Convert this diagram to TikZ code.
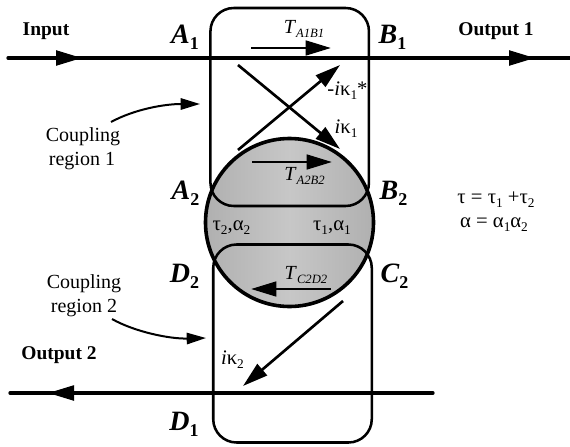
\documentclass[tikz,border=0pt]{standalone}
\usepackage{fontspec}
\setmainfont{Liberation Serif}
\usetikzlibrary{arrows.meta}
\newcommand{\lowsub}[2][10]{\raisebox{-0.22em}{\fontsize{#1}{#1}\selectfont #2}}
\tikzset{
  x=0.75pt, y=-0.75pt,
  wire/.style={line width=2.5pt, line cap=round},
  bighead/.style={line width=2.5pt, -{Triangle[length=19.5pt,width=11pt]}},
  thinarrow/.style={line width=2pt, -{Triangle[length=19pt,width=11pt]}},
  pointer/.style={line width=1.5pt, -{Triangle[length=14.5pt,width=8.5pt]}},
  loopbox/.style={draw, line width=1.9pt, rounded corners=17.5pt, minimum width=118.9pt, minimum height=148.5pt, inner sep=0pt},
  ringshape/.style={circle, minimum size=126pt, inner sep=0pt},
  lbl/.style={anchor=base, inner sep=0pt, font=\fontsize{15}{15}\selectfont},
  boldlbl/.style={anchor=base, inner sep=0pt, font=\fontsize{14.6}{15}\selectfont\bfseries},
  port/.style={anchor=base, inner sep=0pt, font=\fontsize{21}{22}\selectfont\bfseries},
  small/.style={anchor=base, inner sep=0pt, font=\fontsize{15.5}{16}\selectfont},
}
\newcommand{\portname}[2]{\textit{#1}\lowsub[13.5]{#2}}
\newcommand{\Tname}[1]{\textit{T}\lowsub[9.5]{\textit{#1}}}
\begin{document}
\begin{tikzpicture}
\useasboundingbox (0,0) rectangle (570,446);
\fill[white] (0,0) rectangle (570,446);
% ring
\shade[left color=black!31, right color=black!31, middle color=black!22] (289.5,222.5) circle[radius=84];
\node[ringshape, draw, line width=2.7pt] (ring) at (289.5,222.5) {};
% loops
\node[loopbox] (upper) at (289.7,107) {};
\node[loopbox] (lower) at (292.5,343.5) {};
% main waveguides
\coordinate (inL) at (8,58);
\coordinate (outR) at (570,58);
\coordinate (outTwoR) at (433,393);
\coordinate (outTwoL) at (10,393);
\draw[wire] (inL) -- (outR);
\draw[wire] (outTwoR) -- (outTwoL);
\coordinate (h1a) at (56,58); \coordinate (h1b) at (82,58);
\coordinate (h2a) at (508,58); \coordinate (h2b) at (535,58);
\coordinate (h3a) at (74,393); \coordinate (h3b) at (48,393);
\draw[bighead] (h1a) -- (h1b);
\draw[bighead] (h2a) -- (h2b);
\draw[bighead] (h3a) -- (h3b);
% transmission arrows
\coordinate (ta1) at (251,48); \coordinate (ta2) at (331,48);
\coordinate (tb1) at (252,162); \coordinate (tb2) at (332,162);
\coordinate (tc1) at (331,289); \coordinate (tc2) at (251,289);
\draw[thinarrow] (ta1) -- (ta2);
\draw[thinarrow] (tb1) -- (tb2);
\draw[thinarrow] (tc1) -- (tc2);
% coupling arrows
\coordinate (xa1) at (238,65); \coordinate (xa2) at (340,149);
\coordinate (xb1) at (238,150); \coordinate (xb2) at (340,65);
\coordinate (xc1) at (343,301); \coordinate (xc2) at (243,386);
\draw[thinarrow] (xa1) -- (xa2);
\draw[thinarrow] (xb1) -- (xb2);
\draw[thinarrow] (xc1) -- (xc2);
% region pointers
\node[lbl] (crone) at (83,141) {Coupling};
\node[lbl] (cronb) at (82,165) {region 1};
\node[lbl] (crtwo) at (84,288) {Coupling};
\node[lbl] (crtwb) at (84,312) {region 2};
\coordinate (pa1) at (111,122); \coordinate (pa2) at (200,104);
\coordinate (pb1) at (112,319); \coordinate (pb2) at (206,338);
\draw[pointer] (pa1) .. controls (135,109) and (165,104) .. (pa2);
\draw[pointer] (pb1) .. controls (135,332) and (170,339) .. (pb2);
% labels
\node[boldlbl] (input) at (46,35) {Input};
\node[boldlbl] (outone) at (496,35) {Output 1};
\node[boldlbl] (outtwo) at (59,359) {Output 2};
\node[port] (A1) at (185,43) {\portname{A}{1}};
\node[port] (B1) at (392.5,43) {\portname{B}{1}};
\node[port] (A2) at (185.5,199) {\portname{A}{2}};
\node[port] (B2) at (393.5,199) {\portname{B}{2}};
\node[port] (D2) at (184.5,282) {\portname{D}{2}};
\node[port] (C2) at (394.5,282) {\portname{C}{2}};
\node[port] (D1) at (184,430) {\portname{D}{1}};
\node[lbl] (T1) at (304,33) {\Tname{A1B1}};
\node[lbl] (T2) at (304.5,180) {\Tname{A2B2}};
\node[lbl] (T3) at (306,279) {\Tname{C2D2}};
\node[small] (ka) at (347.5,95) {-\textit{i}κ\lowsub{1}*};
\node[small] (kb) at (346,133) {\textit{i}κ\lowsub{1}};
\node[small] (kc) at (232.5,364) {\textit{i}κ\lowsub{2}};
\node[small] (tatwo) at (231.5,230) {τ\lowsub{2},α\lowsub{2}};
\node[small] (taone) at (332,230) {τ\lowsub{1},α\lowsub{1}};
\node[small] (eqa) at (496,203) {τ = τ\lowsub{1} +τ\lowsub{2}};
\node[small] (eqb) at (494,227) {α = α\lowsub{1}α\lowsub{2}};
\end{tikzpicture}
\end{document}
